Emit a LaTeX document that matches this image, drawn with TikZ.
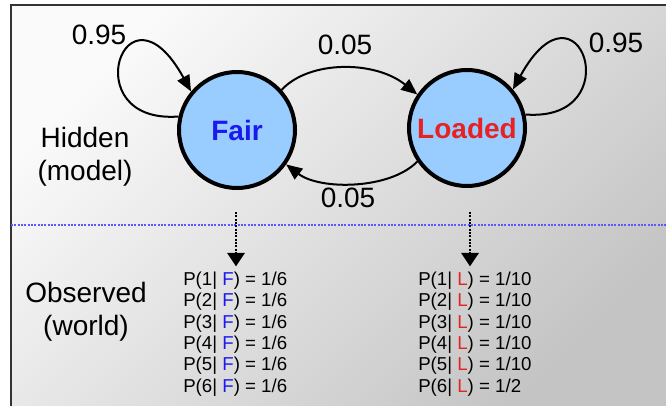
\documentclass[tikz,border=0pt]{standalone}
\usepackage{fontspec}
\setmainfont{Liberation Sans}
\usetikzlibrary{arrows.meta}
\definecolor{statefill}{HTML}{99CCFF}
\definecolor{fairblue}{HTML}{1A1AF0}
\definecolor{loadred}{HTML}{E62222}

\begin{document}
\begin{tikzpicture}[x=0.75pt,y=-0.75pt,
    state/.style={circle,draw,line width=3pt,fill=statefill,minimum size=87pt,inner sep=0pt,font=\fontsize{21}{25}\selectfont\bfseries},
    trans/.style={-{Triangle[length=12pt,width=10pt]},line width=1.5pt},
    obs/.style={-{Triangle[length=10pt,width=13pt]},line width=1.5pt,dash pattern=on 1.5pt off 1pt},
    lbl/.style={font=\fontsize{21}{25}\selectfont},
    plist/.style={align=left,inner sep=0pt,font=\fontsize{14}{16}\selectfont}]
    \useasboundingbox (0,0) rectangle (666,406);
    \shade[top color=gray!4,bottom color=gray!46,shading angle=45] (11,5) rectangle (666,406);
    \draw[line width=1.5pt,black!80] (666,5) -- (11,5) -- (11,406);
    \draw[blue!65,dash pattern=on 1.5pt off 1pt,line width=0.8pt] (11,225) -- (666,225);
    \node[state,text=fairblue] (F) at (237,130) {Fair};
    \node[state,text=loadred] (L) at (467,128) {Loaded};
    \draw[trans] (F.167) .. controls +(-105,8) and +(-66,-120) .. (F.140);
    \draw[trans] (L.13) .. controls +(105,8) and +(66,-120) .. (L.40);
    \draw[trans] (F.42) .. controls +(28,-30) and +(-42,-34) .. (L.146);
    \draw[trans] (L.214) .. controls +(-27,28) and +(34,26) .. (F.325);
    \node[lbl] (FF) at (99,35) {0.95};
    \node[lbl] (LL) at (616,43) {0.95};
    \node[lbl] (FL) at (345,45) {0.05};
    \node[lbl] (LF) at (348,198) {0.05};
    \node[lbl,align=center] (H) at (85,157) {Hidden\\(model)};
    \node[lbl,align=center] (O) at (86,312) {Observed\\(world)};
    \node[plist,anchor=west] (FO) at (183,334) {P(1| \textcolor{fairblue}{F}) = 1/6\\P(2| \textcolor{fairblue}{F}) = 1/6\\P(3| \textcolor{fairblue}{F}) = 1/6\\P(4| \textcolor{fairblue}{F}) = 1/6\\P(5| \textcolor{fairblue}{F}) = 1/6\\P(6| \textcolor{fairblue}{F}) = 1/6};
    \node[plist,anchor=west] (LO) at (418,334) {P(1| \textcolor{loadred}{L}) = 1/10\\P(2| \textcolor{loadred}{L}) = 1/10\\P(3| \textcolor{loadred}{L}) = 1/10\\P(4| \textcolor{loadred}{L}) = 1/10\\P(5| \textcolor{loadred}{L}) = 1/10\\P(6| \textcolor{loadred}{L}) = 1/2};
    \coordinate (FA) at (236,212);
    \coordinate (LA) at (470,212);
    \draw[obs] (FA) -- ([yshift=4pt]FA |- FO.north);
    \draw[obs] (LA) -- ([yshift=4pt]LA |- LO.north);
  \end{tikzpicture}
\end{document}
